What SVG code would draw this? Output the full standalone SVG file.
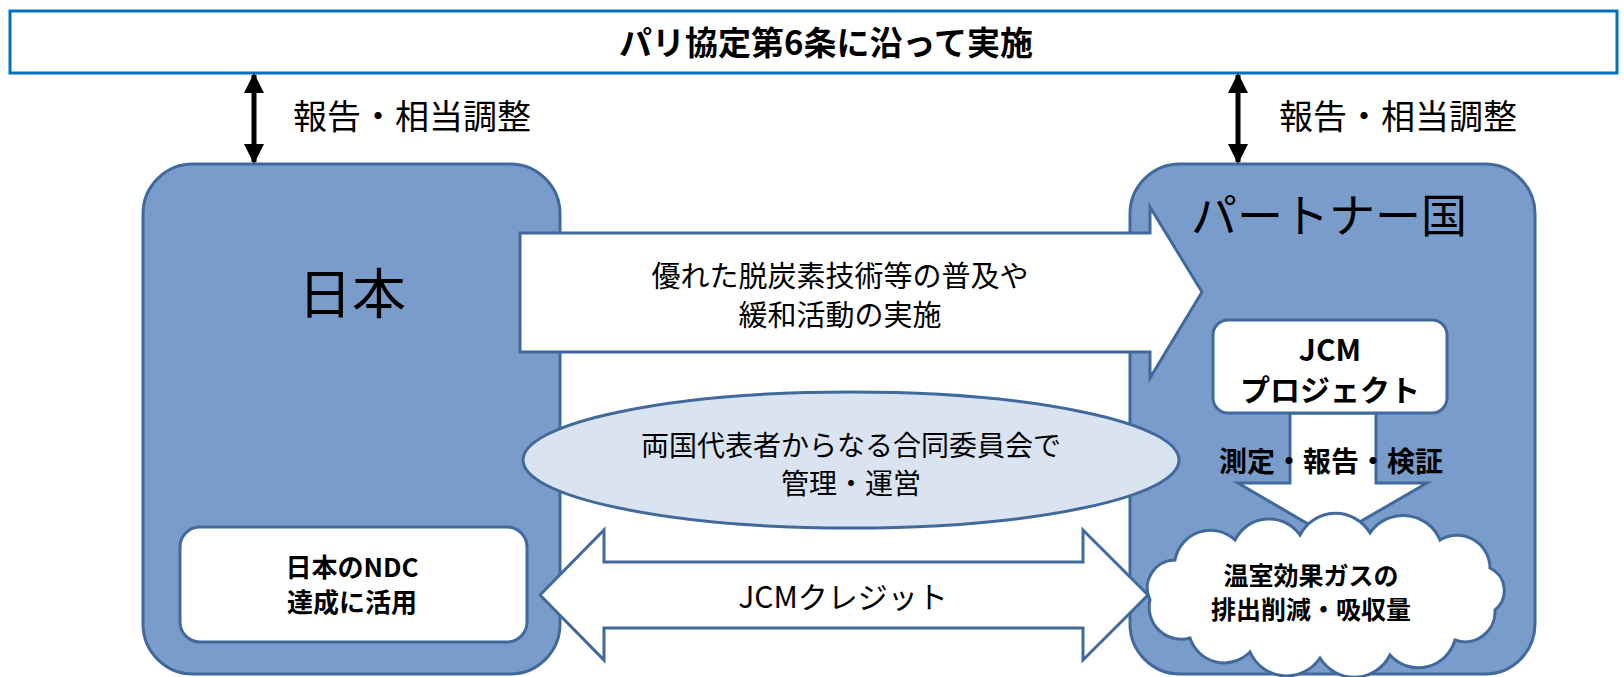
<svg xmlns="http://www.w3.org/2000/svg" width="1624" height="677" viewBox="0 0 1624 677">
<defs>
<style>
.t{font-family:"Noto Sans CJK JP","Noto Sans",sans-serif;fill:#000;text-anchor:middle}
.s{text-anchor:start}
.b{font-weight:bold}
.box{fill:#7A9CCB;stroke:#41699B;stroke-width:3}
.wh{fill:#fff;stroke:#41699B;stroke-width:3}
.lt{fill:#DAE3F0;stroke:#41699B;stroke-width:3}
.blk{stroke:#000;stroke-width:5;fill:none}
</style>
<marker id="ah" viewBox="0 0 10 10" refX="9" refY="5" markerWidth="4" markerHeight="4.4" orient="auto-start-reverse" markerUnits="strokeWidth">
<path d="M0,0 L10,5 L0,10 Z" fill="#000"/>
</marker>
</defs>
<rect width="1624" height="677" fill="#fff"/>
<g id="banner">
<rect x="10" y="11" width="1607" height="62" fill="#fff" stroke="#0070C0" stroke-width="3"/>
<text class="t b" x="826" y="55" font-size="33">パリ協定第6条に沿って実施</text>
</g>
<g id="japan">
<rect class="box" x="143" y="164" width="417" height="510" rx="50"/>
<text class="t" x="352" y="314" font-size="54">日本</text>
</g>
<g id="partner">
<rect class="box" x="1130" y="164" width="405" height="510" rx="50"/>
<text class="t" x="1329" y="232" font-size="46">パートナー国</text>
</g>
<g id="connectors">
<line class="blk" x1="254" y1="75" x2="254" y2="162" marker-start="url(#ah)" marker-end="url(#ah)"/>
<line class="blk" x1="1238" y1="75" x2="1238" y2="162" marker-start="url(#ah)" marker-end="url(#ah)"/>
<path class="wh" d="M520,233 L1150,233 L1150,207 L1202,292 L1150,378 L1150,352 L520,352 Z"/>
<path class="wh" d="M540,595 L604,530 L604,562 L1083,562 L1083,530 L1148,595 L1083,660 L1083,628 L604,628 L604,660 Z"/>
<path class="wh" d="M1290,413 L1376,413 L1376,483 L1427,483 L1332,538 L1238,483 L1290,483 Z"/>
</g>
<g id="labels">
<text class="t s" x="293" y="129" font-size="34">報告・相当調整</text>
<text class="t s" x="1279" y="129" font-size="34">報告・相当調整</text>
<text class="t" x="840" y="287" font-size="29">優れた脱炭素技術等の普及や</text>
<text class="t" x="840" y="326" font-size="29">緩和活動の実施</text>
<text class="t" x="843" y="608" font-size="30">JCMクレジット</text>
<text class="t b" x="1331" y="472" font-size="28">測定・報告・検証</text>
</g>
<g id="committee">
<ellipse class="lt" cx="851" cy="460" rx="328" ry="68"/>
<text class="t" x="851" y="456" font-size="28">両国代表者からなる合同委員会で</text>
<text class="t" x="851" y="494" font-size="28">管理・運営</text>
</g>
<g id="ndc">
<rect class="wh" x="180" y="527" width="347" height="115" rx="20"/>
<text class="t b" x="352" y="577" font-size="26">日本のNDC</text>
<text class="t b" x="352" y="612" font-size="26">達成に活用</text>
</g>
<g id="jcm-project">
<rect class="wh" x="1213" y="320" width="234" height="93" rx="15"/>
<text class="t b" x="1330" y="361" font-size="30">JCM</text>
<text class="t b" x="1330" y="401" font-size="30">プロジェクト</text>
</g>
<g id="ghg-cloud">
<path class="wh" d="M1150,600 A28,28 0 0 1 1175,560 A36,36 0 0 1 1235,540 A38,38 0 0 1 1300,535 A40,40 0 0 1 1370,533 A40,40 0 0 1 1440,540 A33,33 0 0 1 1490,568 A25,25 0 0 1 1495,610 A30,30 0 0 1 1455,640 A38,38 0 0 1 1390,655 A40,40 0 0 1 1320,658 A40,40 0 0 1 1250,652 A36,36 0 0 1 1190,638 A32,32 0 0 1 1150,600 Z"/>
<text class="t b" x="1311" y="585" font-size="25">温室効果ガスの</text>
<text class="t b" x="1311" y="619" font-size="25">排出削減・吸収量</text>
</g>
</svg>
